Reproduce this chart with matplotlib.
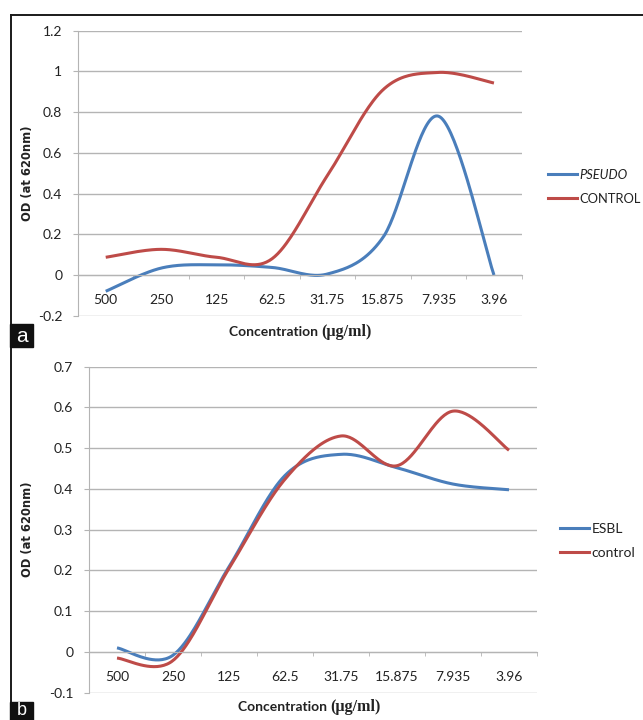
import numpy as np
import matplotlib
matplotlib.use("Agg")
import matplotlib.pyplot as plt
from matplotlib.lines import Line2D
from matplotlib.patches import Rectangle

plt.rcParams['font.family'] = ['Lato', 'DejaVu Sans']

# concentration categories (ug/ml), same for both panels
conc = ["500", "250", "125", "62.5", "31.75", "15.875", "7.935", "3.96"]

# panel a
pseudo = [-0.08, 0.034, 0.05, 0.037, 0.005, 0.185, 0.78, 0.0]
control_a = [0.087, 0.126, 0.087, 0.08, 0.49, 0.91, 0.995, 0.943]

# panel b
esbl = [0.01, -0.008, 0.209, 0.433, 0.485, 0.452, 0.412, 0.398]
control_b = [-0.015, -0.021, 0.205, 0.424, 0.53, 0.457, 0.591, 0.495]

BLUE = "#4a7ebb"
RED = "#be4b48"
GRID = "#b4b4b4"
W, H = 643, 720


def smooth(vals, n=40):
    # excel style smoothed line: bezier through the points, catmull-rom tangents
    y = np.asarray(vals, float)
    x = np.arange(len(y), dtype=float)
    t = np.linspace(0, 1, n)[:, None]
    out = []
    for i in range(len(y) - 1):
        i0, i3 = max(i - 1, 0), min(i + 2, len(y) - 1)
        p0 = np.array([x[i], y[i]])
        p3 = np.array([x[i + 1], y[i + 1]])
        c1 = p0 + (np.array([x[i + 1], y[i + 1]]) - np.array([x[i0], y[i0]])) / 6
        c2 = p3 - (np.array([x[i3], y[i3]]) - np.array([x[i], y[i]])) / 6
        seg = (1 - t) ** 3 * p0 + 3 * (1 - t) ** 2 * t * c1 + 3 * (1 - t) * t ** 2 * c2 + t ** 3 * p3
        out.append(seg if i == 0 else seg[1:])
    pts = np.vstack(out)
    return pts[:, 0], pts[:, 1]


def fpx(x0, y0, x1, y1):
    # pixel box -> figure rect
    return [x0 / W, 1 - y1 / H, (x1 - x0) / W, (y1 - y0) / H]


def setup(ax, lo, hi, step):
    ax.set_xlim(-0.5, len(conc) - 0.5)
    ax.set_ylim(lo, hi)
    yt = np.round(np.arange(lo, hi + step / 2, step), 2)
    ax.set_yticks(yt)
    ax.set_yticklabels([f"{v + 0:g}" for v in yt])
    ax.set_xticks(range(len(conc)))
    ax.set_xticklabels(conc)
    ax.set_xticks(np.arange(-0.5, len(conc)), minor=True)
    ax.grid(axis='y', color=GRID, lw=1.0)
    ax.set_axisbelow(True)
    for s in ['top', 'right']:
        ax.spines[s].set_visible(False)
    ax.spines['left'].set_color(GRID)
    ax.spines['bottom'].set_color(GRID)
    ax.spines['bottom'].set_position(('data', 0))
    ax.tick_params(axis='y', length=3.8, color=GRID, pad=7.5, labelsize=10, labelcolor='#222222')
    ax.tick_params(axis='x', which='major', length=0, pad=13.5, labelsize=10, labelcolor='#222222')
    ax.tick_params(axis='x', which='minor', length=3, color=GRID, direction='out')


fig = plt.figure(figsize=(W / 100, H / 100), dpi=100)

ax1 = fig.add_axes(fpx(78, 30.7, 521.7, 315.7))
setup(ax1, -0.2, 1.2, 0.2)
ax1.plot(*smooth(pseudo), color=BLUE, lw=2.2, solid_capstyle='butt')
ax1.plot(*smooth(control_a), color=RED, lw=2.2, solid_capstyle='butt')

ax2 = fig.add_axes(fpx(89, 366.7, 537, 692.7))
setup(ax2, -0.1, 0.7, 0.1)
ax2.plot(*smooth(esbl), color=BLUE, lw=2.2, solid_capstyle='butt')
ax2.plot(*smooth(control_b), color=RED, lw=2.2, solid_capstyle='butt')

# legends
for ax, labels, x0, yc, fs in [(ax1, ["PSEUDO", "CONTROL"], 548, 186.8, 9.3),
                               (ax2, ["ESBL", "control"], 560, 541, 10)]:
    hs = [Line2D([], [], color=BLUE, lw=2.2), Line2D([], [], color=RED, lw=2.2)]
    leg = ax.legend(hs, labels, loc='center left', bbox_to_anchor=(x0 / W, 1 - yc / H),
                    bbox_transform=fig.transFigure, frameon=False, fontsize=fs,
                    handlelength=29 / (fs * 100 / 72), handletextpad=0.2,
                    labelspacing=0.85 * 10 / fs, borderpad=0, borderaxespad=0)
    for t in leg.get_texts():
        t.set_color('#222222')
    if ax is ax1:
        leg.get_texts()[0].set_fontstyle('italic')

# axis titles
for yc in [173.2, 529.7]:
    fig.text(28 / W, 1 - yc / H, "OD (at 620nm)", rotation=90, ha='center', va='center',
             family='DejaVu Sans', weight='bold', fontsize=8.3, color='#222222')
for xs, yc in [(321, 332), (330, 707)]:
    fig.text(xs / W, 1 - yc / H, "Concentration ", ha='right', va='center',
             weight='bold', fontsize=10, color='#222222')
    fig.text(xs / W, 1 - yc / H, "(\u00b5g/ml)", ha='left', va='center',
             family='Liberation Serif', weight='bold', fontsize=11.5, color='#222222')

# outer frame (top and left edges)
fig.add_artist(Line2D([10.7 / W, 1], [1 - 14.7 / H] * 2, color='#1a1a1a', lw=1.4))
fig.add_artist(Line2D([10.7 / W] * 2, [0, 1 - 14.7 / H], color='#1a1a1a', lw=1.4))

# panel tags
for tag, y0, ybase, fs in [("a", 324, 342.5, 15), ("b", 702, 715, 13)]:
    fig.add_artist(Rectangle((10 / W, 1 - (y0 + 23) / H), 23 / W, 23 / H,
                             transform=fig.transFigure, color='#111111', zorder=5))
    fig.text(21.5 / W, 1 - ybase / H, tag, ha='center', va='baseline', color='white',
             family='Liberation Sans', fontsize=fs, zorder=6)

fig.savefig("out.png", dpi=100)
